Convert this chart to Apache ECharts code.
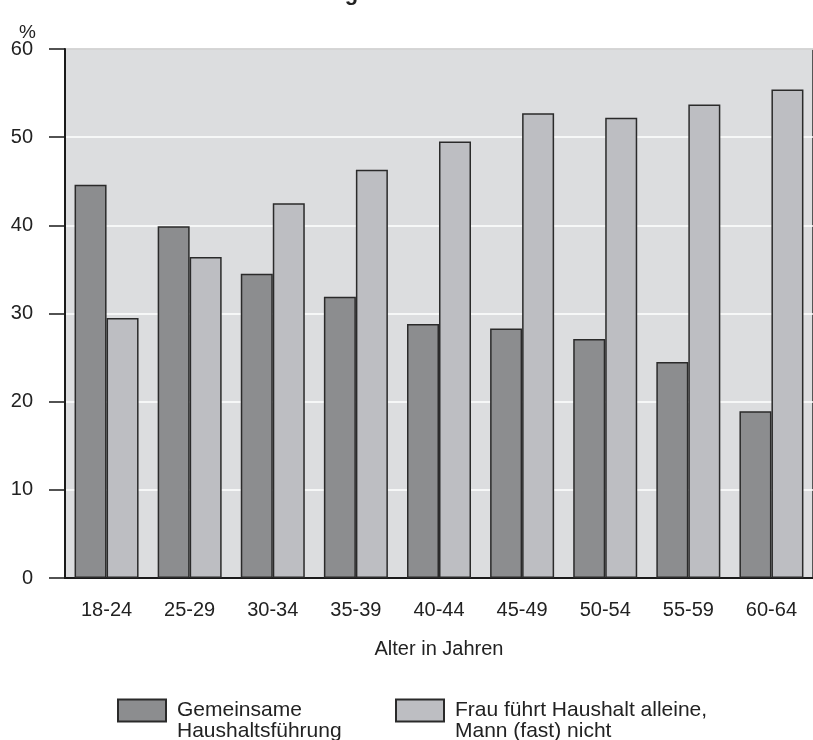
<!DOCTYPE html>
<html>
<head>
<meta charset="utf-8">
<script src="https://cdn.jsdelivr.net/npm/echarts@6/dist/echarts.min.js"></script>
<style>html,body{margin:0;padding:0;background:#fff}#c{width:813px;height:740px}</style>
</head>
<body>
<div id="c"></div>
<script>
const categories = ['18-24','25-29','30-34','35-39','40-44','45-49','50-54','55-59','60-64'];
const gemeinsam = [44.6, 39.9, 34.5, 31.9, 28.8, 28.3, 27.1, 24.5, 18.9];
const frauAllein = [29.5, 36.4, 42.5, 46.3, 49.5, 52.7, 52.2, 53.7, 55.4];
const seriesNames = ['Gemeinsame\nHaushaltsführung', 'Frau führt Haushalt alleine,\nMann (fast) nicht'];
const titleText = 'Arbeitsteilung im Haushalt nach Alter';
const yTicks = {min: 0, max: 60, interval: 10};

const FONT = '"Liberation Sans", Arial, Helvetica, sans-serif';
const chart = echarts.init(document.getElementById('c'));
const legendText = {fontSize: 21, fontFamily: FONT, color: '#222', lineHeight: 21, padding: [0, 0, 0, 6]};
const legendCommon = {top: 674, itemWidth: 48, itemHeight: 22, icon: 'rect', textStyle: legendText,
  selectedMode: false, formatter: name => '\n' + name};
chart.setOption({
  animation: false,
  title: {text: titleText, left: 'center', top: -22, textStyle: {fontSize: 22, fontWeight: 'bold', fontFamily: FONT, color: '#222'}},
  graphic: [{type: 'text', left: 19, top: 23, style: {text: '%', fontSize: 19, fontFamily: FONT, fill: '#222'}}],
  grid: {left: 65, top: 49, width: 756, height: 529, show: true, backgroundColor: '#dcdddf', borderColor: '#2a2a2a', borderWidth: 1.5},
  legend: [
    Object.assign({data: [seriesNames[0]], left: 112}, legendCommon),
    Object.assign({data: [seriesNames[1]], left: 390}, legendCommon)
  ],
  xAxis: {
    type: 'category', data: categories,
    name: 'Alter in Jahren', nameLocation: 'middle', nameGap: 61,
    nameTextStyle: {fontSize: 20, fontFamily: FONT, color: '#222'},
    axisLine: {lineStyle: {color: '#1a1a1a', width: 2}},
    axisTick: {show: false},
    axisLabel: {fontSize: 20, fontFamily: FONT, color: '#222', margin: 22}
  },
  yAxis: {
    type: 'value', min: yTicks.min, max: yTicks.max, interval: yTicks.interval,
    axisLine: {show: true, lineStyle: {color: '#1a1a1a', width: 2}},
    axisTick: {show: true, length: 16, lineStyle: {color: '#1a1a1a', width: 1.5}},
    axisLabel: {fontSize: 20, fontFamily: FONT, color: '#222', margin: 32},
    splitLine: {lineStyle: {color: '#ffffff', width: 1.5}}
  },
  series: [
    {name: seriesNames[0], type: 'bar', data: gemeinsam, barWidth: 32, barGap: '0%',
     itemStyle: {color: '#8c8d8f', borderColor: '#2a2a2a', borderWidth: 1.5}},
    {name: seriesNames[1], type: 'bar', data: frauAllein, barWidth: 32, barGap: '0%',
     itemStyle: {color: '#bdbec2', borderColor: '#2a2a2a', borderWidth: 1.5}}
  ]
});
</script>
</body>
</html>
